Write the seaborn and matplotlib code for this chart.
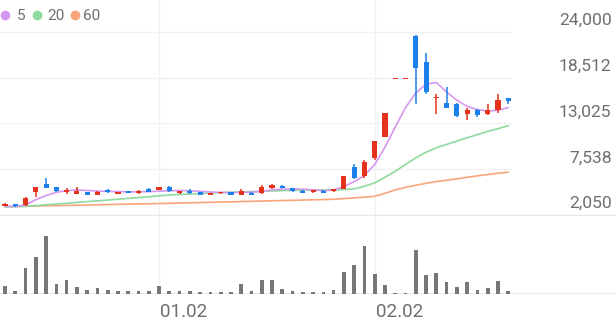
import matplotlib
matplotlib.use("Agg")
import matplotlib.pyplot as plt
from matplotlib.lines import Line2D
import seaborn as sns
import pandas as pd
import numpy as np

# ---------------- data ----------------
opens = [3130, 3324, 3204, 4767, 5776, 5368, 4767, 4574, 4815, 4454,
         5055, 4646, 4935, 4694, 5127, 5091, 5452, 4646, 4971, 4767,
         4454, 4646, 4815, 4490, 4731, 4646, 5295, 5572, 5247, 4971,
         4767, 4971, 4887, 5175, 7856, 6738, 8901, 11426, 18400, 18400,
         23518, 20320, 16029, 15512, 15392, 14190, 14671, 14106, 14671, 16029]
highs = [3450, 3350, 4150, 5452, 6497, 5400, 5295, 5368, 4850, 4971,
         5127, 4851, 4960, 5055, 5247, 5440, 5480, 4920, 5175, 4800,
         4680, 4850, 4850, 5175, 4760, 5692, 5776, 5692, 5280, 5000,
         5040, 5000, 5200, 6780, 8180, 8577, 10950, 14300, 18400, 18400,
         23600, 21402, 16510, 17387, 15450, 14911, 14700, 15392, 16594, 16029]
lows = [3080, 3050, 3150, 4250, 5250, 4850, 4574, 4550, 4430, 4430,
        4740, 4526, 4670, 4574, 4830, 5050, 4860, 4620, 4620, 4470,
        4430, 4620, 4470, 4450, 4470, 4620, 5175, 5270, 4860, 4700,
        4740, 4700, 4860, 5150, 6330, 6497, 8577, 11400, 18400, 18400,
        15392, 16510, 14190, 14850, 13800, 13469, 13782, 13986, 14262, 15308]
closes = [3372, 3084, 4093, 5452, 5295, 4887, 5055, 4887, 4454, 4815,
          4767, 4731, 4694, 4935, 4851, 5368, 4887, 4887, 4646, 4490,
          4646, 4815, 4490, 4887, 4490, 5452, 5608, 5295, 4887, 4731,
          5007, 4731, 5175, 6738, 6497, 8421, 10897, 14263, 18400, 18400,
          19599, 16787, 16186, 14911, 13866, 14587, 13986, 14587, 15789, 15705]
volumes = [77, 23, 260, 363, 577, 100, 133, 67, 37, 57,
           37, 23, 23, 23, 23, 77, 30, 23, 23, 17,
           17, 17, 17, 97, 23, 140, 140, 43, 27, 20,
           17, 17, 37, 220, 283, 477, 197, 87, 5, 1,
           433, 183, 210, 113, 67, 113, 37, 57, 130, 23]
ma5 = [3084, 3084, 3252, 3889, 4370, 4767, 4971, 5050, 4980, 4920,
       4880, 4850, 4820, 4830, 4850, 4900, 4950, 4980, 4950, 4880,
       4800, 4760, 4740, 4760, 4780, 4900, 5050, 5150, 5180, 5150,
       5060, 4960, 5055, 5452, 6052, 6773, 8096, 10176, 12580, 14912,
       16666, 17712, 17916, 16787, 15789, 15068, 14671, 14502, 14587, 14911]
ma20 = [3000, 3040, 3090, 3180, 3280, 3370, 3460, 3560, 3650, 3750,
        3840, 3940, 4040, 4140, 4240, 4340, 4450, 4510, 4560, 4620,
        4670, 4720, 4770, 4810, 4850, 4880, 4920, 4970, 5000, 5030,
        5050, 5060, 5040, 5090, 5175, 5490, 5900, 6570, 7290, 8100,
        8900, 9575, 10100, 10500, 10900, 11300, 11670, 12060, 12390, 12750]
ma60 = [3048, 3075, 3100, 3125, 3150, 3175, 3200, 3225, 3250, 3275,
        3300, 3325, 3350, 3375, 3400, 3425, 3450, 3480, 3510, 3540,
        3570, 3600, 3630, 3660, 3690, 3720, 3750, 3780, 3810, 3840,
        3870, 3900, 3940, 4010, 4100, 4190, 4300, 4646, 5055, 5368,
        5608, 5848, 6053, 6209, 6377, 6570, 6738, 6894, 7050, 7171]
ytick_values = [2050, 7538, 13025, 18512, 24000]
ytick_labels = ["2,050", "7,538", "13,025", "18,512", "24,000"]
xtick_pos = [15, 36]
xtick_labels = ["01.02", "02.02"]
legend_labels = ["5", "20", "60"]

# ---------------- style ----------------
sns.set_theme(style="white")
plt.rcParams['font.family'] = ['Roboto', 'DejaVu Sans']

RED = '#E6321C'
BLUE = '#1C80EC'
C5 = '#D597EF'
C20 = '#8FDA9E'
C60 = '#F9A57C'
TXT = '#6E6E6E'
GRID = '#F1F1F1'

W, H = 616, 321
fig = plt.figure(figsize=(W / 100, H / 100), dpi=100)

def px_axes(x0, y0, x1, y1):
    return fig.add_axes([x0 / W, 1 - y1 / H, (x1 - x0) / W, (y1 - y0) / H])

ax = px_axes(0, 0, W, 216)
axv = px_axes(0, 230, W, 293.5)

n = len(closes)
idx = np.arange(n)
df = pd.DataFrame({"i": idx, "open": opens, "high": highs, "low": lows,
                   "close": closes, "vol": volumes,
                   "ma5": ma5, "ma20": ma20, "ma60": ma60})

step = 10.27
xlim = (-5 / step, (W - 5) / step)

# ---- price panel ----
per_px = (24000 - 2050) / (215.0 - 31.7)
ylo = 2050 - (216 - 215.0) * per_px
yhi = 24000 + 31.7 * per_px

for v in ytick_values[1:]:
    ax.axhline(v, xmin=0, xmax=511 / W, color=GRID, lw=1.0, zorder=0)
ax.axhline(2050, color='#E9E9E9', lw=1.0, zorder=0)

# moving averages
sns.lineplot(data=df, x="i", y="ma60", ax=ax, color=C60, lw=1.2, zorder=2)
sns.lineplot(data=df, x="i", y="ma20", ax=ax, color=C20, lw=1.2, zorder=2)
sns.lineplot(data=df, x="i", y="ma5", ax=ax, color=C5, lw=1.2, zorder=2)

# candles
for i in range(n):
    o, h, l, c = opens[i], highs[i], lows[i], closes[i]
    col = RED if c >= o else BLUE
    ax.vlines(i, l, h, color=col, lw=1.1, zorder=3)
    body = abs(c - o)
    bottom = min(o, c)
    if body < 160:
        bottom = (o + c) / 2 - 80
        body = 160
    ax.bar(i, body, bottom=bottom, width=0.5, color=col, lw=0, zorder=4)

ax.set_xlim(*xlim)
ax.set_ylim(ylo, yhi)
ax.set_xlabel("")
ax.set_ylabel("")
ax.set_xticks([])
ax.set_yticks([])
for s in ax.spines.values():
    s.set_visible(False)
ax.patch.set_alpha(0)

for v, lab in zip(ytick_values, ytick_labels):
    ax.annotate(lab, xy=(1 - 4.5 / W, v), xycoords=ax.get_yaxis_transform(),
                xytext=(0, 4.9), textcoords='offset points',
                ha='right', va='baseline', fontsize=12.6, color=TXT)

# ---- volume panel ----
sns.barplot(data=df, x="i", y="vol", ax=axv, native_scale=True,
            color='#777777', saturation=1, width=0.36, linewidth=0,
            edgecolor='none', zorder=3)
axv.axhline(0, color='#E6E6E6', lw=1.2, zorder=1)
axv.set_xlim(*xlim)
axv.set_ylim(0, 635)
axv.set_xlabel("")
axv.set_ylabel("")
axv.set_xticks([])
axv.set_yticks([])
for s in axv.spines.values():
    s.set_visible(False)
axv.patch.set_alpha(0)

# vertical grid lines spanning both panels + x labels
for p, lab in zip(xtick_pos, xtick_labels):
    xf = (5 + step * p) / W
    fig.add_artist(Line2D([xf, xf], [1 - 294 / H, 1.0], transform=fig.transFigure,
                          color=GRID, lw=1.0, zorder=0))
    fig.text(xf + 1.0 / W, 1 - 316.7 / H, lab, ha='left', va='baseline',
             fontsize=13.6, color=TXT)

# legend
for (xd, xt, lab, col) in [(5.3, 17, legend_labels[0], C5),
                           (36.7, 47, legend_labels[1], C20),
                           (75, 83, legend_labels[2], C60)]:
    fig.add_artist(Line2D([xd / W], [1 - 15 / H], transform=fig.transFigure,
                          marker='o', markersize=6, color=col, lw=0))
    fig.text(xt / W, 1 - 20.4 / H, lab, ha='left', va='baseline',
             fontsize=11, color=TXT)

fig.savefig("out.png", dpi=100)
